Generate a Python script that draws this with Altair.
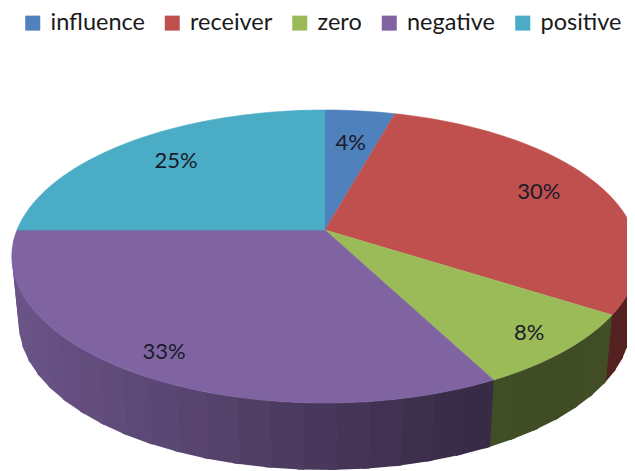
import math
import altair as alt
import pandas as pd
import numpy as np

categories = ["influence", "receiver", "zero", "negative", "positive"]
percents = [4.3, 29.8, 8.3, 32.6, 25.0]
labels = ["4%", "30%", "8%", "33%", "25%"]
colors = ["#4f81bd", "#c0504d", "#9bbb59", "#8064a2", "#4bacc6"]
label_radius = [0.70, 0.78, 0.87, 0.87, 0.75]

# perspective model of the tilted disc, in page pixels
CX, CY, A, B, K = 325, 230, 308, 141.7, 0.181
DEPTH, SHRINK = 67, 0.978
shade_x = [12, 100, 200, 320, 490, 560, 635]
shade_f = [0.84, 0.76, 0.68, 0.56, 0.42, 0.41, 0.44]


def project(pct, r=1.0):
    t = 2 * math.pi * pct / 100
    u, v = r * math.sin(t), r * math.cos(t)
    d = 1 + K * v
    return CX + A * u / d, CY - B * v / d


def hex_shade(col, f):
    rgb = [int(col[i:i + 2], 16) for i in (1, 3, 5)]
    return "#%02x%02x%02x" % tuple(int(c * f) for c in rgb)


def lo(x):
    return CX + (x - CX) * SHRINK


top_rows, wall_rows, text_rows = [], [], []
start = 0.0
sid = 0
for name, p, col, lab, lr in zip(categories, percents, colors, labels, label_radius):
    end = start + p
    top_rows.append({"id": name, "ord": 0, "x": CX, "y": CY, "name": name})
    n = max(4, int(p * 3))
    for i in range(n + 1):
        x, y = project(start + p * i / n)
        top_rows.append({"id": name, "ord": i + 1, "x": x, "y": y, "name": name})
    mx, my = project(start + p / 2, lr)
    text_rows.append({"x": mx, "y": my, "t": lab})
    # side wall strips; each one runs a little under the next
    a, b = max(start, 25), min(end, 75)
    if b > a:
        m = max(1, int(round((b - a) / 1.4)))
        for j in range(m):
            p0, p1 = a + (b - a) * j / m, a + (b - a) * (j + 1) / m + 0.3
            x0, y0 = project(p0)
            x1, y1 = project(p1)
            shade = hex_shade(col, float(np.interp((x0 + x1) / 2, shade_x, shade_f)))
            quad = [(x0, y0), (x1, y1), (lo(x1), y1 + DEPTH), (lo(x0), y0 + DEPTH)]
            for o, (qx, qy) in enumerate(quad):
                wall_rows.append({"id": f"s{sid:03d}", "ord": o, "x": qx, "y": qy, "shade": shade})
            sid += 1
    start = end

W, H = 619, 463
xs = alt.Scale(domain=[8, 8 + W], nice=False, zero=False)
ys = alt.Scale(domain=[8 + H, 8], nice=False, zero=False)
X = alt.X("x:Q", scale=xs, axis=None)
Y = alt.Y("y:Q", scale=ys, axis=None)

walls = alt.Chart(pd.DataFrame(wall_rows)).mark_line(strokeWidth=0, clip=True, interpolate="linear").encode(
    x=X, y=Y,
    detail="id:N",
    order="ord:Q",
    fill=alt.Fill("shade:N", scale=None, legend=None),
)

cscale = alt.Scale(domain=categories, range=colors)
top = alt.Chart(pd.DataFrame(top_rows)).mark_line(strokeWidth=0.6, clip=True, interpolate="linear").encode(
    x=X, y=Y,
    detail="id:N",
    order="ord:Q",
    fill=alt.Fill(
        "name:N", scale=cscale, sort=categories,
        legend=alt.Legend(
            title=None, orient="none", legendX=13, legendY=3, direction="horizontal",
            symbolType="square", symbolSize=225, symbolStrokeWidth=0,
            labelFont="Lato", labelFontSize=23.5, labelColor="#1a1a1a", labelOffset=6,
            columnPadding=15.5, columns=5, labelLimit=200,
        ),
    ),
    stroke=alt.Stroke("name:N", scale=cscale, sort=categories, legend=None),
)

text = alt.Chart(pd.DataFrame(text_rows)).mark_text(
    font="Lato", fontSize=22, color="#1a1a2a", align="center", baseline="middle"
).encode(x=X, y=Y, text="t:N")

chart = (
    alt.layer(walls, top, text)
    .resolve_scale(fill="independent", stroke="independent")
    .properties(width=W, height=H, padding=0, autosize=alt.AutoSizeParams(type="none"),
                view=alt.ViewConfig(stroke="white", strokeWidth=0))
    .configure_view(strokeWidth=0, stroke="transparent")
    .configure(background="white")
)
chart.save("out.html", embed_options={"renderer": "svg", "actions": False})
